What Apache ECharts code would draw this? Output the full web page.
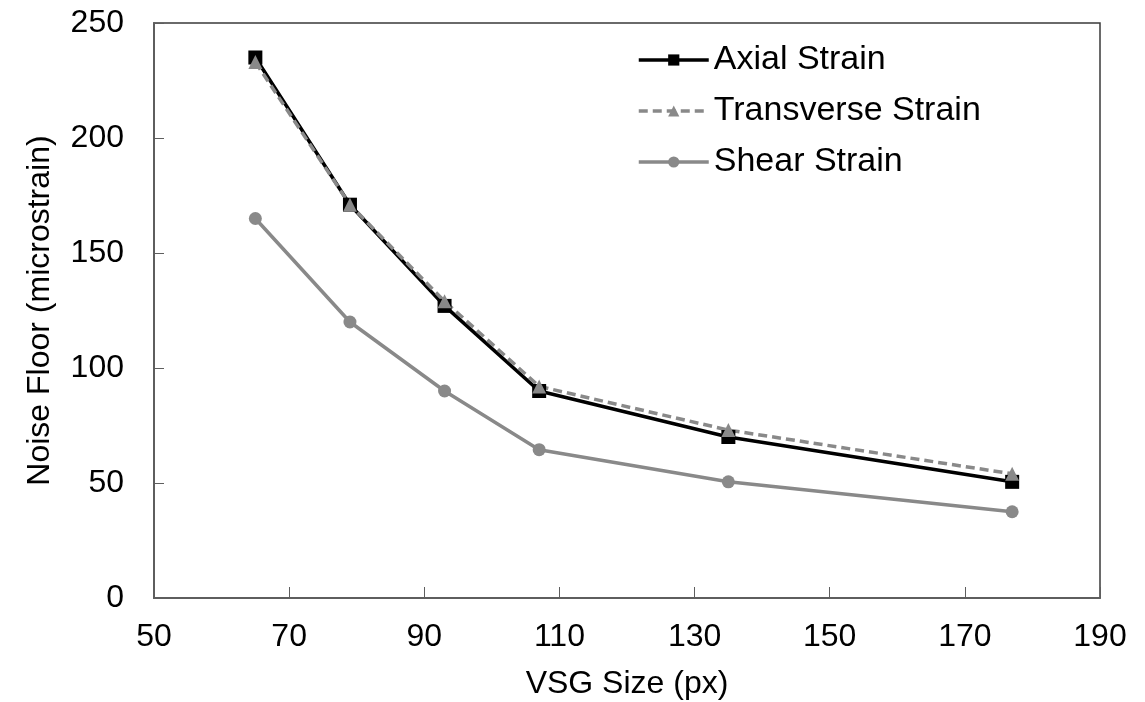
<!DOCTYPE html>
<html>
<head>
<meta charset="utf-8">
<script src="https://cdn.jsdelivr.net/npm/echarts@6/dist/echarts.min.js"></script>
<style>
  html, body { margin: 0; padding: 0; background: #fff; }
  #chart { width: 1145px; height: 702px; }
</style>
</head>
<body>
<div id="chart"></div>
<script>
// VSG size (px) for each measurement
const vsgSize = [65, 79, 93, 107, 135, 177];

// noise floor values in microstrain
const axialStrain = [235, 171, 127, 90, 70, 50.5];
const transverseStrain = [233, 171, 129, 92, 73, 54];
const shearStrain = [165, 120, 90, 64.5, 50.5, 37.5];

const xTicks = [50, 70, 90, 110, 130, 150, 170, 190];
const yTicks = [0, 50, 100, 150, 200, 250];

const font = "Liberation Sans, Arial, sans-serif";
const grey = "#898989";
const axisGrey = "#5e5e5e";

const toPairs = (vals) => vsgSize.map((x, i) => [x, vals[i]]);

const chart = echarts.init(document.getElementById("chart"));

chart.setOption({
  animation: false,
  backgroundColor: "#fff",
  textStyle: { fontFamily: font },
  grid: {
    left: 154,
    right: 45,
    top: 23,
    bottom: 104,
    outerBoundsMode: "none",
    containLabel: false,
    show: true,
    borderColor: "#3a3a3a",
    borderWidth: 1.5,
    backgroundColor: "transparent",
  },
  legend: {
    orient: "vertical",
    left: 632,
    top: 38,
    itemWidth: 70,
    itemHeight: 14,
    itemGap: 17,
    lineStyle: { width: 3.5 },
    textStyle: { fontSize: 34, color: "#000", fontFamily: font },
    data: ["Axial Strain", "Transverse Strain", "Shear Strain"],
  },
  xAxis: {
    type: "value",
    min: xTicks[0],
    max: xTicks[xTicks.length - 1],
    interval: 20,
    name: "VSG Size (px)",
    nameLocation: "middle",
    nameGap: 70,
    nameTextStyle: { fontSize: 32, color: "#000", fontFamily: font },
    axisLine: { show: true, lineStyle: { color: axisGrey, width: 2 } },
    axisTick: { show: true, inside: true, length: 11, lineStyle: { color: axisGrey, width: 1 } },
    axisLabel: { fontSize: 32, color: "#000", margin: 23, fontFamily: font },
    splitLine: { show: false },
  },
  yAxis: {
    type: "value",
    min: yTicks[0],
    max: yTicks[yTicks.length - 1],
    interval: 50,
    name: "Noise Floor (microstrain)",
    nameLocation: "middle",
    nameGap: 98,
    nameTextStyle: { fontSize: 32, color: "#000", fontFamily: font },
    axisLine: { show: true, lineStyle: { color: axisGrey, width: 2 } },
    axisTick: { show: true, inside: true, length: 10, lineStyle: { color: axisGrey, width: 1 } },
    axisLabel: { fontSize: 32, color: "#000", margin: 30, fontFamily: font },
    splitLine: { show: false },
  },
  series: [
    {
      name: "Axial Strain",
      type: "line",
      data: toPairs(axialStrain),
      symbol: "rect",
      symbolSize: 14,
      lineStyle: { color: "#000", width: 3.5 },
      itemStyle: { color: "#000" },
    },
    {
      name: "Transverse Strain",
      type: "line",
      data: toPairs(transverseStrain),
      symbol: "triangle",
      symbolSize: 14,
      lineStyle: { color: grey, width: 3.5, type: [9, 5] },
      itemStyle: { color: grey },
    },
    {
      name: "Shear Strain",
      type: "line",
      data: toPairs(shearStrain),
      symbol: "circle",
      symbolSize: 13,
      lineStyle: { color: grey, width: 3.5 },
      itemStyle: { color: grey },
    },
  ],
});
</script>
</body>
</html>
